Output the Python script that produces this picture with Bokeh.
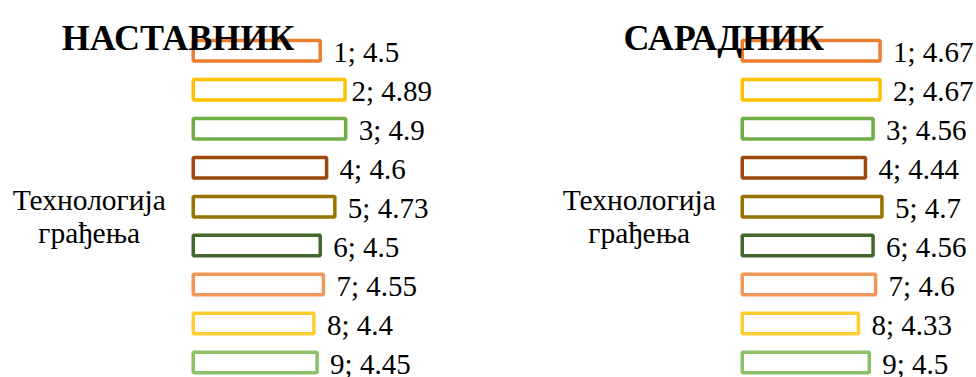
from bokeh.plotting import figure
from bokeh.models import Range1d, ColumnDataSource
from bokeh.layouts import row
from bokeh.embed import file_html
from bokeh.resources import INLINE
from bokeh.core.properties import value

# ---- data ----
category_lines = ["Технологија", "грађења"]          # category "Технологија грађења"
series = ["1", "2", "3", "4", "5", "6", "7", "8", "9"]
mentor_values = [4.5, 4.89, 4.9, 4.6, 4.73, 4.5, 4.55, 4.4, 4.45]     # НАСТАВНИК
associate_values = [4.67, 4.67, 4.56, 4.44, 4.7, 4.56, 4.6, 4.33, 4.5]  # САРАДНИК
panel_titles = ["НАСТАВНИК", "САРАДНИК"]
axis_min = 2.5

# ---- style ----
colors = ["#ED7D31", "#FFC000", "#70AD47", "#9E480E", "#997300",
          "#43682B", "#F1975A", "#FFCD33", "#8CC168"]
FONT = "Liberation Serif"
H = 377
PX_X = 63.5      # pixels per value unit
PX_Y = 38.96     # pixels per series row
ROW0 = 50.3      # canvas y of first row centre


def make_panel(title, vals, width, base_px, title_cx, cat_cx, nudges):
    x0 = axis_min - base_px / PX_X
    y_top = -ROW0 / PX_Y
    y_bot = y_top + H / PX_Y

    def dx(px):
        return x0 + px / PX_X

    def dy(py):
        return y_top + py / PX_Y

    p = figure(width=width, height=H, output_backend="svg", toolbar_location=None,
               x_range=Range1d(x0, x0 + width / PX_X), y_range=Range1d(y_bot, y_top),
               x_axis_location=None, y_axis_location=None, min_border=0,
               outline_line_color=None, background_fill_color="white",
               border_fill_color="white")
    p.grid.visible = False

    idx = list(range(len(series)))
    src = ColumnDataSource(dict(
        y=idx, v=vals, c=colors,
        lab=[f"{s}; {v}" for s, v in zip(series, vals)],
        off=[13 + n for n in nudges],
    ))
    p.hbar(y="y", left=axis_min, right="v", height=0.526, source=src,
           fill_color="white", line_color="c", line_width=3.5)
    p.text(x="v", y="y", text="lab", x_offset="off", y_offset=1.4, source=src,
           text_font=value(FONT), text_font_size="29px", text_color="black",
           text_baseline="middle", text_align="left")

    p.text(x=[dx(title_cx)], y=[dy(37.7)], text=[title],
           text_font=value(FONT), text_font_size="36px", text_font_style="bold",
           text_color="black", text_align="center", text_baseline="alphabetic")
    p.text(x=[dx(cat_cx), dx(cat_cx)], y=[dy(199.5), dy(232.0)], text=category_lines,
           text_font=value(FONT), text_font_size="29.5px", text_color="black",
           text_align="center", text_baseline="alphabetic")
    return p


LEFT_W = 548
left = make_panel(panel_titles[0], mentor_values, LEFT_W, 192.75, 177.5, 88.7,
                  [0, -6.5, 0, 0, 0, 0, 0, 0, 0])
right = make_panel(panel_titles[1], associate_values, 976 - LEFT_W,
                   741.75 - LEFT_W, 723.3 - LEFT_W, 638.7 - LEFT_W, [0] * 9)

layout = row(left, right)
open("out.html", "w").write(file_html(layout, INLINE))
